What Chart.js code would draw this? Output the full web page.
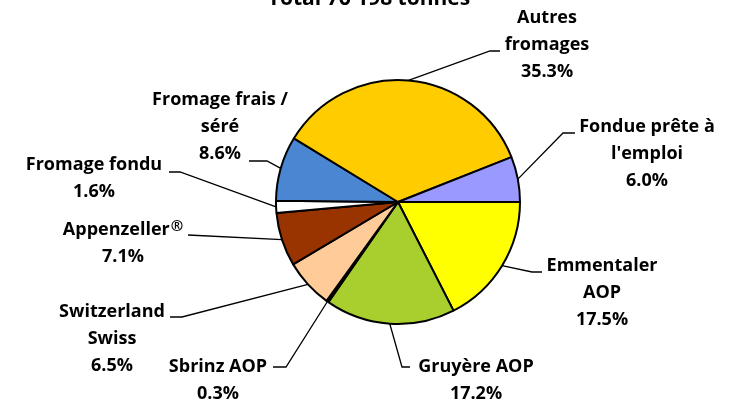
<!DOCTYPE html>
<html>
<head>
<meta charset="utf-8">
<script src="https://cdn.jsdelivr.net/npm/chart.js@4/dist/chart.umd.min.js"></script>
<style>
html,body{margin:0;padding:0;background:#fff;}
#wrap{width:731px;height:404px;position:relative;}
</style>
</head>
<body>
<div id="wrap"><canvas id="c" width="731" height="404"></canvas></div>
<script>
const titleText = "Total 76 198 tonnes";
const categories = ["Emmentaler AOP","Gruyère AOP","Sbrinz AOP","Switzerland Swiss","Appenzeller®","Fromage fondu","Fromage frais / séré","Autres fromages","Fondue prête à l'emploi"];
const shares = [17.5, 17.2, 0.3, 6.5, 7.1, 1.6, 8.6, 35.3, 6.0];
const colors = ["#FFFF00","#A8CF2D","#1a1a1a","#FFCC99","#993300","#FFFFFF","#4A86D2","#FFCC00","#9999FF"];
// label text lines (name lines) – percentage appended from data
const labelLines = [["Emmentaler","AOP"],["Gruyère AOP"],["Sbrinz AOP"],["Switzerland","Swiss"],["Appenzeller®"],["Fromage fondu"],["Fromage frais /","séré"],["Autres","fromages"],["Fondue prête à","l'emploi"]];
// layout: text centre x, first line y, elbow point, end point of leader
const labelLayout = [
  {x:602, y:266, ex:532, ey:272, hx:542, hy:272},
  {x:476, y:367, ex:402, ey:367, hx:410, hy:367},
  {x:218, y:367, ex:286, ey:367, hx:273, hy:367},
  {x:112, y:312, ex:182, ey:317, hx:170, hy:317},
  {x:123, y:230, ex:188, ey:235, hx:188, hy:235},
  {x:94,  y:165, ex:180, ey:172, hx:169, hy:172},
  {x:220, y:100, ex:267, ey:161, hx:249, hy:161},
  {x:547, y:18,  ex:490, ey:51,  hx:500, hy:51},
  {x:647, y:127, ex:563, ey:133, hx:575, hy:133}
];
const FAMILY = '"Open Sans", Lato, sans-serif';
const FONT = 'bold 18px ' + FAMILY;
const SUP_FONT = 'bold 15px ' + FAMILY;
const LINE_H = 27;

function drawLine(ctx, t, cx, cy) {
  if (t.endsWith('®')) {
    const base = t.slice(0, -1);
    ctx.font = FONT;
    const w1 = ctx.measureText(base).width;
    ctx.font = SUP_FONT;
    const w2 = ctx.measureText('®').width;
    const left = cx - (w1 + w2 + 1) / 2;
    ctx.textAlign = 'left';
    ctx.font = FONT;
    ctx.fillText(base, left, cy);
    ctx.font = SUP_FONT;
    ctx.fillText('®', left + w1 + 1, cy - 3);
    ctx.textAlign = 'center';
    ctx.font = FONT;
  } else {
    ctx.fillText(t, cx, cy);
  }
}

const labelPlugin = {
  id: 'pieLabels',
  afterDraw(chart) {
    const ctx = chart.ctx;
    const meta = chart.getDatasetMeta(0);
    ctx.save();
    ctx.font = 'bold 21px ' + FAMILY;
    ctx.fillStyle = '#000';
    ctx.textAlign = 'center';
    ctx.textBaseline = 'alphabetic';
    ctx.fillText(titleText, 369, 5);
    meta.data.forEach((arc, i) => {
      const p = arc.getProps(['x','y','startAngle','endAngle','outerRadius'], true);
      const a = (p.startAngle + p.endAngle) / 2;
      const sx = p.x + Math.cos(a) * p.outerRadius;
      const sy = p.y + Math.sin(a) * p.outerRadius;
      const L = labelLayout[i];
      ctx.strokeStyle = '#000';
      ctx.lineWidth = 1.3;
      ctx.beginPath();
      ctx.moveTo(sx, sy);
      ctx.lineTo(L.ex, L.ey);
      ctx.lineTo(L.hx, L.hy);
      ctx.stroke();
      const lines = labelLines[i].concat([shares[i].toFixed(1) + '%']);
      ctx.font = FONT;
      ctx.fillStyle = '#000';
      ctx.textAlign = 'center';
      ctx.textBaseline = 'middle';
      lines.forEach((t, k) => drawLine(ctx, t, L.x, L.y + k * LINE_H));
    });
    ctx.restore();
  }
};

new Chart(document.getElementById('c'), {
  type: 'pie',
  data: {
    labels: categories,
    datasets: [{
      data: shares,
      backgroundColor: colors,
      borderColor: '#000',
      borderWidth: 2
    }]
  },
  options: {
    responsive: false,
    animation: false,
    rotation: 90,
    layout: { padding: { left: 200, right: 135, top: 79, bottom: 79 } },
    plugins: { legend: { display: false }, tooltip: { enabled: false }, title: { display: false } }
  },
  plugins: [labelPlugin]
});
</script>
</body>
</html>
